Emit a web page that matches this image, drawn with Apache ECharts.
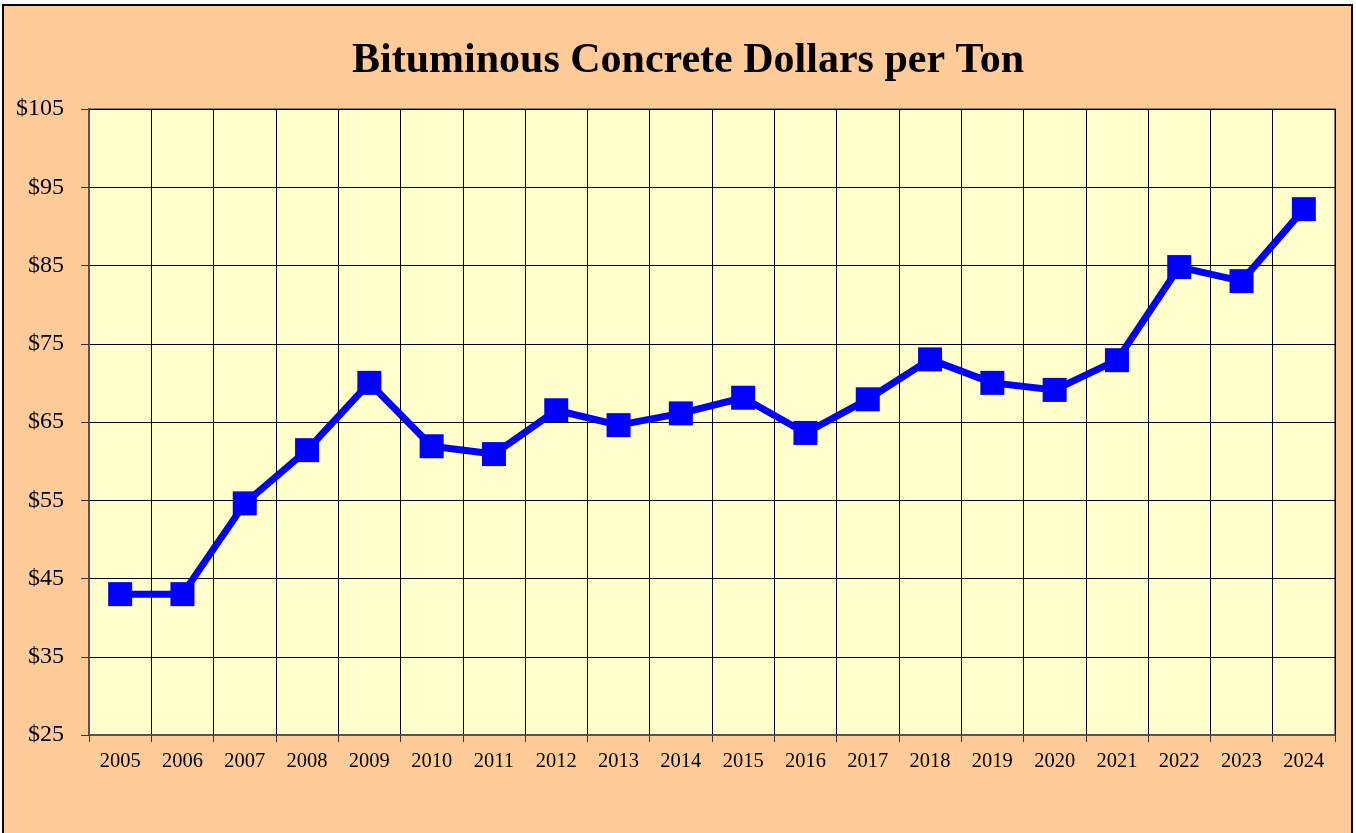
<!DOCTYPE html>
<html>
<head>
<meta charset="utf-8">
<title>Bituminous Concrete Dollars per Ton</title>
<script src="https://cdn.jsdelivr.net/npm/echarts@6/dist/echarts.min.js"></script>
<style>
    html, body { margin: 0; padding: 0; background: #ffffff; }
    #chart { width: 1356px; height: 833px; }
</style>
</head>
<body>
<div id="chart"></div>
<script>
// years on the x axis
var years = ['2005', '2006', '2007', '2008', '2009', '2010', '2011', '2012', '2013', '2014',
    '2015', '2016', '2017', '2018', '2019', '2020', '2021', '2022', '2023', '2024'];
// dollars per ton
var pricePerTon = [43.0, 43.0, 54.6, 61.4, 70.0, 61.9, 60.9, 66.5, 64.6, 66.1,
    68.1, 63.6, 67.9, 73.0, 70.0, 69.1, 72.9, 84.8, 83.0, 92.2];
var yTicks = [25, 35, 45, 55, 65, 75, 85, 95, 105];

var chart = echarts.init(document.getElementById('chart'));
var serif = '"Liberation Serif", "Times New Roman", serif';

var option = {
    animation: false,
    backgroundColor: '#ffffff',
    graphic: [
        {
            type: 'rect',
            z: -10,
            shape: { x: 3, y: 5, width: 1349, height: 840 },
            style: { fill: '#ffcc99', stroke: '#000000', lineWidth: 2 }
        }
    ],
    title: {
        text: 'Bituminous Concrete Dollars per Ton',
        left: 347,
        top: 35,
        textStyle: { fontFamily: serif, fontSize: 42, fontWeight: 'bold', color: '#000000' }
    },
    grid: {
        left: 89, right: 21, top: 109, bottom: 98,
        show: true,
        backgroundColor: '#ffffcc',
        borderColor: '#808080',
        borderWidth: 2
    },
    xAxis: {
        type: 'category',
        data: years,
        boundaryGap: true,
        axisLine: { lineStyle: { color: '#555555', width: 2 } },
        axisTick: { show: true, length: 7, lineStyle: { color: '#333333' } },
        axisLabel: { fontFamily: serif, fontSize: 20.5, color: '#000000', margin: 16 },
        splitLine: { show: true, lineStyle: { color: '#000000', width: 1 } }
    },
    yAxis: {
        type: 'value',
        min: 25,
        max: 105,
        interval: 10,
        axisLine: { show: true, lineStyle: { color: '#555555', width: 2 } },
        axisTick: { show: true, length: 8, lineStyle: { color: '#333333' } },
        axisLabel: {
            fontFamily: serif, fontSize: 24, color: '#000000', margin: 25,
            formatter: function (v) { return yTicks.indexOf(v) >= 0 ? '$' + v : ''; }
        },
        splitLine: { show: true, lineStyle: { color: '#000000', width: 1 } }
    },
    series: [
        {
            name: 'Dollars per Ton',
            type: 'line',
            data: pricePerTon,
            symbol: 'rect',
            symbolSize: 24,
            lineStyle: { color: '#0000ff', width: 7 },
            itemStyle: { color: '#0000ff' }
        }
    ]
};

chart.setOption(option);
</script>
</body>
</html>
